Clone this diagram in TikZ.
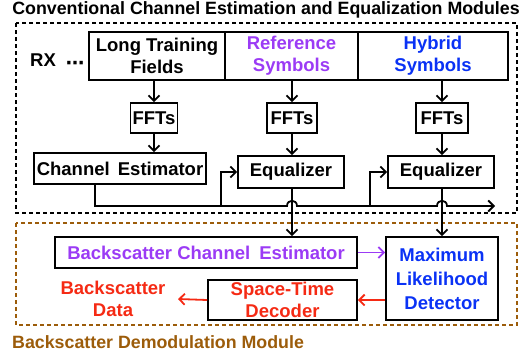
\documentclass[tikz,border=0pt]{standalone}
\usepackage{fontspec}
\setmainfont{Liberation Sans}
\newfontfamily\dejavu{DejaVu Sans}
\usetikzlibrary{arrows.meta}
\definecolor{mypurple}{HTML}{9B3BF5}
\definecolor{myblue}{HTML}{0A32F5}
\definecolor{myred}{HTML}{F52A14}
\definecolor{mybrown}{HTML}{9C5C0A}
\begin{document}
\begin{tikzpicture}[x=1pt,y=-1pt,
  font=\bfseries\fontsize{18.5}{22}\selectfont,
  box/.style={draw, line width=1.9pt, inner sep=0pt, align=center},
  arr/.style={line width=1.8pt, -{Straight Barb[length=5.5pt,width=11pt,line width=1.8pt]}},
  frame/.style={line width=1.7pt, dash pattern=on 4pt off 3pt},
  lbl/.style={inner sep=0pt, align=center}]
\useasboundingbox (0,0) rectangle (522,356);

% titles and frames
\node[lbl, font=\bfseries\fontsize{17.8}{22}\selectfont] (title) at (266,10) {Conventional Channel Estimation and Equalization Modules};
\draw[frame] (16,23) rectangle (517,213);
\draw[frame, mybrown] (16,223) rectangle (517,325);
\node[lbl, mybrown, anchor=west, font=\bfseries\fontsize{17.8}{22}\selectfont] (btitle) at (12,342) {Backscatter Demodulation Module};

% RX
\node[lbl, anchor=base] (rx) at (43,66) {RX};
\node[lbl, anchor=base] (dots) at (75,69) {\dejavu\bfseries ⋯};

% top row
\node[box, minimum width=136pt, minimum height=48pt] (ltf) at (157,56) {Long Training\\Fields};
\node[box, minimum width=133pt, minimum height=48pt, text=mypurple] (ref) at (291.5,56) {Reference\\Symbols};
\node[box, minimum width=150pt, minimum height=48pt, text=myblue] (hyb) at (433,56) {Hybrid\\Symbols};

% FFTs
\node[box, minimum width=47pt, minimum height=30pt] (fft1) at (154,118) {FFTs};
\node[box, minimum width=50pt, minimum height=30pt] (fft2) at (292,118) {FFTs};
\node[box, minimum width=52pt, minimum height=30pt] (fft3) at (442,118) {FFTs};

% estimator and equalizers
\node[box, minimum width=172pt, minimum height=31pt] (ce) at (120,168.5) {Channel\hspace{3pt} Estimator};
\node[box, minimum width=106pt, minimum height=32pt] (eq1) at (291,172) {Equalizer};
\node[box, minimum width=106pt, minimum height=32pt] (eq2) at (441,172) {Equalizer};

% backscatter module
\node[box, minimum width=302pt, minimum height=31pt, text=mypurple] (bce) at (206,252.5) {Backscatter Channel\hspace{4pt} Estimator};
\node[box, minimum width=112pt, minimum height=83pt, text=myblue, font=\bfseries\fontsize{18.5}{24}\selectfont] (ml) at (442,278.5) {Maximum\\Likelihood\\Detector};
\node[box, minimum width=149pt, minimum height=40pt, text=myred] (std) at (282.5,300) {Space-Time\\Decoder};
\node[lbl, text=myred] (data) at (113,299) {Backscatter\\Data};

% arrows top -> FFT
\draw[arr] (ltf.south -| fft1) -- (fft1);
\draw[arr] (ref.south -| fft2) -- (fft2);
\draw[arr] (hyb.south -| fft3) -- (fft3);
\draw[arr] (fft1) -- (fft1 |- ce.north);
\draw[arr] (fft2) -- (fft2 |- eq1.north);
\draw[arr] (fft3) -- (fft3 |- eq2.north);

% channel estimate bus
\coordinate (c0) at (95,206);
\coordinate (b1) at (221,206);
\coordinate (b2) at (370,206);
\coordinate (cend) at (495,206);
\draw[arr] (ce.south -| c0) -- (c0) -- (287,206) .. controls (287,199) and (297,199) .. (297,206)
  -- (437,206) .. controls (437,199) and (447,199) .. (447,206) -- (cend);
\draw[arr] (b1) |- (eq1.west);
\draw[arr] (b2) |- (eq2.west);

% equalizer outputs
\draw[arr] (fft2 |- eq1.south) -- (fft2 |- bce.north);
\draw[arr] (fft3 |- eq2.south) -- (fft3 |- ml.north);

% backscatter arrows
\draw[arr, mypurple] (bce.east) -- (bce.east -| ml.west);
\draw[arr, myred] (ml.west |- std.east) -- (std.east);
\draw[arr, myred] (std.west) -- (data.east -| 178,0);
\end{tikzpicture}
\end{document}
